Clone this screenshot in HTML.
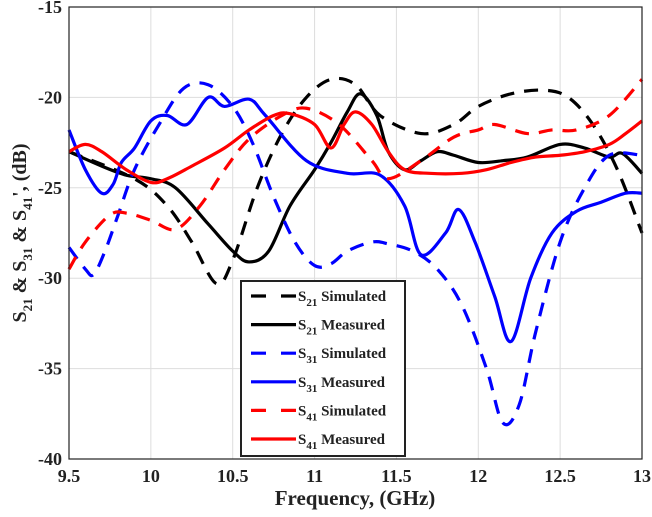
<!DOCTYPE html>
<html><head><meta charset="utf-8"><style>
body{margin:0;background:#fff;}
svg{display:block;font-family:"Liberation Serif",serif;font-weight:bold;}
</style></head><body>
<svg id="chart" width="652" height="517" viewBox="0 0 652 517" xmlns="http://www.w3.org/2000/svg">
<g id="grid"></g>
<g id="series"></g>
<rect x="69" y="7" width="573" height="452" fill="none" stroke="#222" stroke-width="1.2"/>
<g id="ticks"></g>
<text x="355" y="505" text-anchor="middle" font-size="21" fill="#222">Frequency, (GHz)</text>
<text transform="translate(26,233) rotate(-90)" text-anchor="middle" font-size="20" fill="#222">S<tspan font-size="13" dy="6">21</tspan><tspan dy="-6"> &amp; S</tspan><tspan font-size="13" dy="6">31</tspan><tspan dy="-6"> &amp; S</tspan><tspan font-size="13" dy="6">41</tspan><tspan dy="-6">', (dB)</tspan></text>
<g id="legend"></g>
</svg>
<script>
const xTicks=[9.5,10,10.5,11,11.5,12,12.5,13];
const yTicks=[-15,-20,-25,-30,-35,-40];
const s21SimF=[9.5,9.9,10.1,10.25,10.4,10.5,10.65,10.8,10.95,11.1,11.25,11.4,11.65,11.85,12.0,12.2,12.4,12.55,12.7,12.85,13];
const s21SimV=[-23,-24.5,-26,-28,-30.3,-29,-25,-22,-20,-19,-19.3,-21,-22,-21.5,-20.5,-19.8,-19.6,-20,-21.5,-24,-27.5];
const s21MeasF=[9.5,9.7,9.85,10,10.15,10.35,10.5,10.6,10.72,10.85,11.0,11.1,11.2,11.28,11.38,11.45,11.55,11.65,11.75,11.85,12.0,12.15,12.3,12.5,12.65,12.8,12.88,13];
const s21MeasV=[-23,-23.8,-24.3,-24.5,-25,-27,-28.5,-29.1,-28.5,-26,-24,-22.5,-20.8,-19.8,-21,-23,-24,-23.5,-23,-23.2,-23.6,-23.5,-23.3,-22.6,-22.8,-23.3,-23.1,-24.2];
const s31SimF=[9.5,9.6,9.65,9.72,9.8,9.9,10.05,10.2,10.35,10.5,10.62,10.75,10.88,11.0,11.1,11.2,11.35,11.45,11.6,11.75,11.9,12.05,12.15,12.25,12.35,12.5,12.65,12.8,13];
const s31SimV=[-28.3,-29.5,-29.8,-28.5,-26.5,-24,-21.5,-19.5,-19.3,-20.5,-22.5,-25.5,-28,-29.3,-29.2,-28.5,-28,-28.1,-28.5,-29.5,-31.5,-35,-38,-37,-33,-28,-25,-23.2,-23.2];
const s31MeasF=[9.5,9.6,9.7,9.77,9.82,9.9,10.0,10.1,10.22,10.35,10.45,10.6,10.7,10.95,11.2,11.4,11.55,11.65,11.8,11.88,11.98,12.1,12.2,12.32,12.45,12.6,12.75,12.9,13];
const s31MeasV=[-21.8,-24,-25.3,-24.8,-23.6,-22.8,-21.3,-21,-21.5,-20,-20.5,-20.1,-21,-23.5,-24.2,-24.3,-26,-28.7,-27.5,-26.2,-28,-31,-33.5,-30,-27.5,-26.3,-25.8,-25.3,-25.3];
const s41SimF=[9.5,9.6,9.75,9.85,10.0,10.15,10.3,10.45,10.6,10.8,10.95,11.15,11.35,11.45,11.65,11.85,12.0,12.1,12.3,12.45,12.6,12.8,13];
const s41SimV=[-29.5,-28,-26.5,-26.4,-26.8,-27.3,-26,-24,-22.3,-21,-20.6,-21.5,-23.5,-24.5,-23.5,-22.2,-21.8,-21.5,-22,-21.8,-21.8,-21,-19];
const s41MeasF=[9.5,9.6,9.7,9.85,10.0,10.1,10.25,10.45,10.6,10.75,10.85,11.0,11.1,11.18,11.25,11.35,11.45,11.55,11.7,11.9,12.05,12.2,12.35,12.5,12.65,12.8,12.9,13];
const s41MeasV=[-23,-22.6,-23,-24,-24.7,-24.5,-23.8,-22.8,-21.8,-21,-20.9,-21.5,-22.8,-21.5,-20.8,-21.5,-23,-24,-24.2,-24.2,-24,-23.6,-23.3,-23.2,-23,-22.6,-22,-21.3];
const seriesNames=["S21 Simulated","S21 Measured","S31 Simulated","S31 Measured","S41 Simulated","S41 Measured"];

const NS="http://www.w3.org/2000/svg";
const X0=69,X1=642,Y0=7,Y1=459;
function xs(f){return X0+(f-9.5)/(13-9.5)*(X1-X0);}
function ys(v){return Y0+(-15-v)/(-15+40)*(Y1-Y0);}
function mk(t,a,p){const e=document.createElementNS(NS,t);for(const k in a)e.setAttribute(k,a[k]);p.appendChild(e);return e;}
const grid=document.getElementById('grid'),ticks=document.getElementById('ticks');
xTicks.forEach(f=>{
  const l=mk('line',{x1:xs(f),x2:xs(f),y1:Y0,y2:Y1,stroke:'#ddd','stroke-width':1},grid);
  
  
  const t=mk('text',{x:xs(f),y:482,'text-anchor':'middle','font-size':18,fill:'#222'},ticks);
  t.textContent=f;
  
  
});
yTicks.forEach(v=>{
  const l=mk('line',{x1:X0,x2:X1,y1:ys(v),y2:ys(v),stroke:'#ddd','stroke-width':1},grid);
  
  
  const t=mk('text',{x:62,y:ys(v)+6,'text-anchor':'end','font-size':18,fill:'#222'},ticks);
  t.textContent=v;
  
  
});
function pathD(F,V){
  const p=F.map((f,i)=>[xs(f),ys(V[i])]);
  let d='M'+p[0][0]+','+p[0][1];
  for(let i=0;i<p.length-1;i++){
    const a=p[Math.max(0,i-1)],b=p[i],c=p[i+1],e=p[Math.min(p.length-1,i+2)];
    const c1=[b[0]+(c[0]-a[0])/6,b[1]+(c[1]-a[1])/6],c2=[c[0]-(e[0]-b[0])/6,c[1]-(e[1]-b[1])/6];
    d+=' C'+c1+' '+c2+' '+c;
  }
  return d;
}
const sg=document.getElementById('series');
const defs=[[s21SimF,s21SimV,'#000',true],[s21MeasF,s21MeasV,'#000',false],[s31SimF,s31SimV,'#00f',true],[s31MeasF,s31MeasV,'#00f',false],[s41SimF,s41SimV,'#f00',true],[s41MeasF,s41MeasV,'#f00',false]];
const slug=['s21-simulated-line','s21-measured-line','s31-simulated-line','s31-measured-line','s41-simulated-line','s41-measured-line'];
defs.forEach((s,i)=>{
  const p=mk('path',{d:pathD(s[0],s[1]),fill:'none',stroke:s[2],'stroke-width':3.2,'stroke-linejoin':'round'},sg);
  if(s[3])p.setAttribute('stroke-dasharray','14 10');
  
  
});
const lg=document.getElementById('legend');
const box=mk('rect',{x:241,y:281,width:164,height:175,fill:'#fff',stroke:'#222','stroke-width':2},lg);


defs.forEach((s,i)=>{
  const y=296+i*28.6;
  const g=mk('g',{},lg);
  
  
  const l=mk('line',{x1:251,x2:296,y1:y,y2:y,stroke:s[2],'stroke-width':3.2},g);
  if(s[3])l.setAttribute('stroke-dasharray','15 15');
  const nm=seriesNames[i].split(' ');
  const t=mk('text',{x:298,y:y+5,'font-size':15,fill:'#222'},g);
  t.innerHTML='S<tspan font-size="11" dy="5">'+nm[0].slice(1)+'</tspan><tspan dy="-5"> '+nm[1]+'</tspan>';
});
</script>
</body></html>
